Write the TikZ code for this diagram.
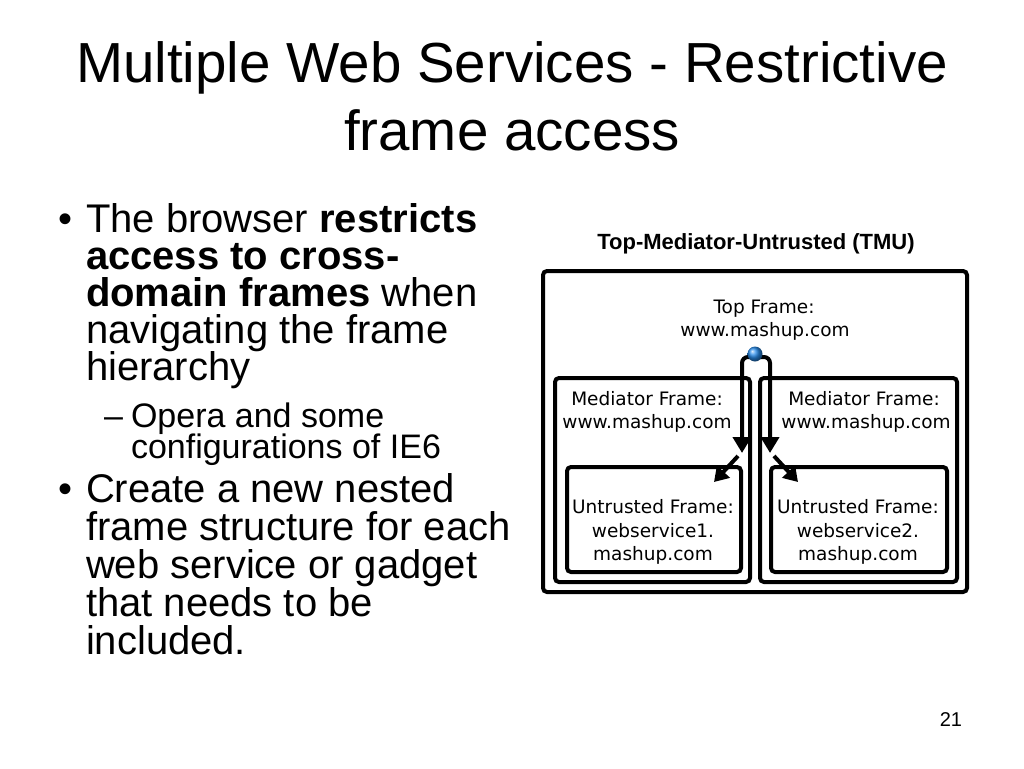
\documentclass[tikz,border=0pt]{standalone}
\usepackage{fontspec}
\setmainfont{Liberation Sans}
\newfontfamily\diagfont{DejaVu Sans}
\usetikzlibrary{arrows.meta}
\definecolor{dotblue}{RGB}{40,140,235}
\begin{document}
\begin{tikzpicture}[x=1pt,y=-1pt,
  every node/.style={inner sep=0pt, outer sep=0pt},
  titletext/.style={font=\fontsize{56.5}{60}\selectfont, anchor=base},
  bodytext/.style={font=\fontsize{40}{44}\selectfont, anchor=base west},
  subtext/.style={font=\fontsize{34}{38}\selectfont, anchor=base west},
  dtext/.style={font=\diagfont\fontsize{18.5}{22}\selectfont, text=black, anchor=base},
  dtitle/.style={font=\bfseries\fontsize{22}{26}\selectfont, text=black, anchor=base},
  framebox/.style={draw, line width=4pt, rounded corners=4pt, anchor=north west},
  flow/.style={line width=4pt, -{Triangle[length=16pt,width=18pt]}},
  diag/.style={line width=4pt, -{Triangle[length=14pt,width=17pt]}},
]
\useasboundingbox (0,0) rectangle (1024,768);
\fill[white] (0,0) rectangle (1024,768);

% title
\node[titletext] (t1) at (512,82) {Multiple Web Services - Restrictive};
\node[titletext] (t2) at (512,150) {frame access};

% bullets
\node[bodytext] (b1) at (58,232) {•};
\node[bodytext] (l1) at (86,232) {The browser \textbf{restricts}};
\node[bodytext] (l2) at (86,269) {\textbf{access to cross-}};
\node[bodytext] (l3) at (86,306) {\textbf{domain frames} when};
\node[bodytext] (l4) at (86,343) {navigating the frame};
\node[bodytext] (l5) at (86,380) {hierarchy};
\node[subtext] (d1) at (104,427) {–};
\node[subtext] (s1) at (131,427) {Opera and some};
\node[subtext] (s2) at (131,458) {configurations of IE6};
\node[bodytext] (b2) at (58,502) {•};
\node[bodytext] (m1) at (86,502) {Create a new nested};
\node[bodytext] (m2) at (86,540) {frame structure for each};
\node[bodytext] (m3) at (86,578) {web service or gadget};
\node[bodytext] (m4) at (86,616) {that needs to be};
\node[bodytext] (m5) at (86,654) {included.};

% page number
\node[font=\fontsize{20}{24}\selectfont, anchor=base east] (pg) at (962,726) {21};

% diagram
\node[dtitle] (tmu) at (756,249) {Top-Mediator-Untrusted (TMU)};
\node[framebox, minimum width=424pt, minimum height=321pt] (outer) at (543,271) {};
\node[framebox, minimum width=195pt, minimum height=204pt] (medl) at (555,378) {};
\node[framebox, minimum width=197pt, minimum height=204pt] (medr) at (760,378) {};
\node[framebox, minimum width=174pt, minimum height=105pt] (untl) at (567,467) {};
\node[framebox, minimum width=176pt, minimum height=105pt] (untr) at (771,467) {};

\node[dtext] (top1) at (764,313) {Top Frame:};
\node[dtext] (top2) at (765,336) {www.mashup.com};
\node[dtext] (ml1) at (647,405) {Mediator Frame:};
\node[dtext] (ml2) at (647,428) {www.mashup.com};
\node[dtext] (mr1) at (864,405) {Mediator Frame:};
\node[dtext] (mr2) at (866,428) {www.mashup.com};
\node[dtext] (ul1) at (653,513) {Untrusted Frame:};
\node[dtext] (ul2) at (653,537) {webservice1.};
\node[dtext] (ul3) at (653,560) {mashup.com};
\node[dtext] (ur1) at (858,513) {Untrusted Frame:};
\node[dtext] (ur2) at (858,537) {webservice2.};
\node[dtext] (ur3) at (858,560) {mashup.com};

\coordinate (ltip) at (742,453);
\coordinate (rtip) at (770,453);
\coordinate (lds) at (738,456);
\coordinate (ldt) at (714,482);
\coordinate (rds) at (774,456);
\coordinate (rdt) at (798,482);

\draw[flow, rounded corners=6pt] (755,357) -| (ltip);
\draw[flow, rounded corners=6pt] (755,357) -| (rtip);
\draw[diag] (lds) -- (ldt);
\draw[diag] (rds) -- (rdt);
\node[circle, minimum size=15pt, shading=ball, ball color=dotblue] (dot) at (755,354) {};
\end{tikzpicture}
\end{document}
